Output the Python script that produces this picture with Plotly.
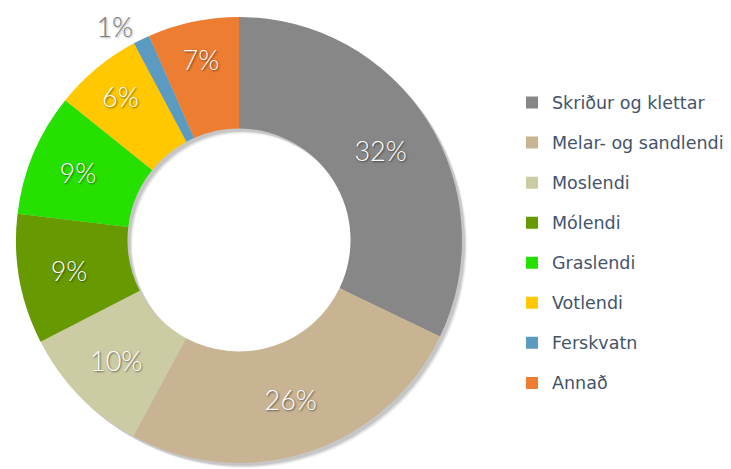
import plotly.graph_objects as go

labels = ["Skriður og klettar", "Melar- og sandlendi", "Moslendi", "Mólendi",
          "Graslendi", "Votlendi", "Ferskvatn", "Annað"]
values = [32.1, 25.7, 9.6, 9.4, 8.9, 6.4, 1.2, 6.6]
colors = ["#878787", "#c8b393", "#cccca4", "#669a00",
          "#26e000", "#ffc800", "#5b9bc2", "#ed7d31"]
text_positions = ["inside", "inside", "inside", "inside",
                  "inside", "inside", "outside", "inside"]

W, H = 731, 469
cx, cy, r = 239, 240, 223
FONT = "Lato, 'Noto Sans', sans-serif"
LEG_FONT = "'DejaVu Sans', sans-serif"


def dom(dx=0, dy=0):
    return dict(x=[(cx - r + dx) / W, (cx + r + dx) / W],
                y=[1 - (cy + r + dy) / H, 1 - (cy - r + dy) / H])


fig = go.Figure()

# soft drop shadow (same data, offset, translucent)
for off, op in [(5, 0.06), (4, 0.08), (3, 0.10)]:
    fig.add_trace(go.Pie(
        values=values, labels=labels, sort=False, direction="clockwise",
        hole=0.5, domain=dom(off, off), showlegend=False,
        marker=dict(colors=["rgba(0,0,0,%s)" % op] * len(values), line=dict(width=0)),
        textinfo="none", hoverinfo="skip",
    ))

legend_text = ["<span style='font-size:17.5px;baseline-shift:5px'>%s</span>" % l for l in labels]

fig.add_trace(go.Pie(
    values=values, labels=legend_text, sort=False, direction="clockwise",
    hole=0.5, domain=dom(),
    marker=dict(colors=colors, line=dict(width=0)),
    texttemplate="%{percent:.0%}",
    textposition=text_positions,
    insidetextorientation="horizontal",
    textfont=dict(family=FONT, size=27, color="white", weight=300,
                  shadow="1px 1px 2px rgba(0,0,0,0.55)"),
    outsidetextfont=dict(family=FONT, size=27, color="#808080", weight=300,
                         shadow="1px 1px 2px rgba(0,0,0,0.35)"),
    hoverinfo="label+percent",
))

fig.update_layout(
    width=W, height=H,
    margin=dict(l=0, r=0, t=0, b=0),
    paper_bgcolor="white", plot_bgcolor="white",
    showlegend=True,
    legend=dict(x=512 / W, xanchor="left", y=1 - 243 / H, yanchor="middle",
                font=dict(family=LEG_FONT, size=28.5, color="#44546a"),
                bgcolor="rgba(0,0,0,0)", borderwidth=0),
)

fig.write_html("out.html", config={"displayModeBar": False},
               post_script="document.body.style.margin='0';")
